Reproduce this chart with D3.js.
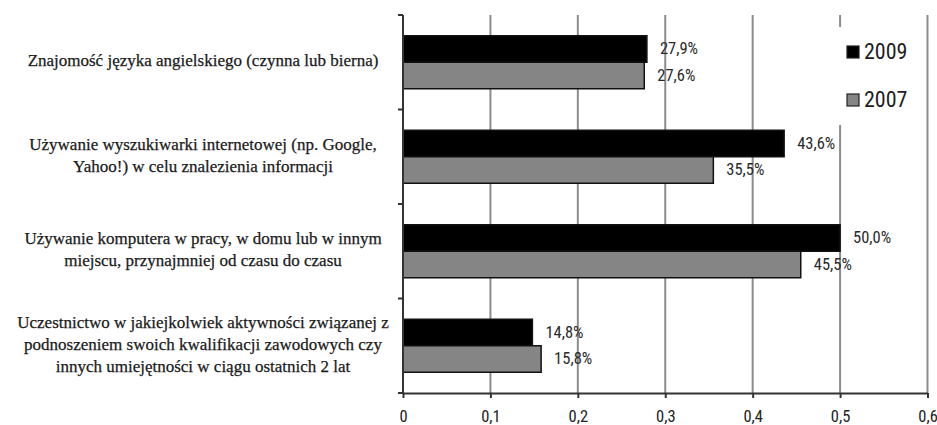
<!DOCTYPE html>
<html>
<head>
<meta charset="utf-8">
<script src="https://cdn.jsdelivr.net/npm/d3@7"></script>
<style>
  html, body { margin: 0; padding: 0; background: #fff; }
  svg { display: block; }
</style>
</head>
<body>
<svg id="chart" width="937" height="425"></svg>
<script>
// Skill categories (each entry is a list of wrapped lines)
const categories = [
  ["Znajomość języka angielskiego (czynna lub bierna)"],
  ["Używanie wyszukiwarki internetowej (np. Google,", "Yahoo!) w celu znalezienia informacji"],
  ["Używanie komputera w pracy, w domu lub w innym", "miejscu, przynajmniej od czasu do czasu"],
  ["Uczestnictwo w jakiejkolwiek aktywności związanej z", "podnoszeniem swoich kwalifikacji zawodowych czy", "innych umiejętności w ciągu ostatnich 2 lat"]
];
const series = ["2009", "2007"];
const values2009 = [0.279, 0.436, 0.500, 0.148];
const values2007 = [0.276, 0.355, 0.455, 0.158];
const xTicks = [0, 0.1, 0.2, 0.3, 0.4, 0.5, 0.6];
const xTickLabels = ["0", "0,1", "0,2", "0,3", "0,4", "0,5", "0,6"];

const colors = { "2009": "#000000", "2007": "#858585" };

const svg = d3.select("#chart");
const plot = { left: 403, right: 927.5, top: 15, bottom: 393 };
const narrow = "'Liberation Sans Narrow', 'Roboto Condensed', 'Liberation Sans', sans-serif";

const x = d3.scaleLinear().domain([0, 0.6]).range([plot.left, plot.right]);
const y = d3.scaleBand().domain(d3.range(categories.length)).range([plot.top, plot.bottom]).paddingInner(0).paddingOuter(0);
const barH = 26.5;
const ySub = d3.scaleBand().domain(series).range([0, barH * 2]);

const fmt = v => (v * 100).toFixed(1).replace(".", ",") + "%";

// vertical gridlines
svg.append("g")
  .selectAll("line")
  .data(xTicks.slice(1))
  .join("line")
  .attr("x1", d => x(d)).attr("x2", d => x(d))
  .attr("y1", plot.top).attr("y2", plot.bottom)
  .attr("stroke", "#8c8c8c")
  .attr("stroke-width", 2);

// bars
const rows = categories.map((c, i) => ({ i, vals: { "2009": values2009[i], "2007": values2007[i] } }));
const groups = svg.append("g").selectAll("g")
  .data(rows)
  .join("g")
  .attr("transform", d => `translate(0,${y(d.i) + (y.bandwidth() - barH * 2) / 2})`);

groups.selectAll("rect")
  .data(d => series.map(s => ({ s, v: d.vals[s] })))
  .join("rect")
  .attr("x", x(0))
  .attr("y", d => ySub(d.s))
  .attr("width", d => x(d.v) - x(0))
  .attr("height", ySub.bandwidth())
  .attr("fill", d => colors[d.s])
  .attr("stroke", "#111")
  .attr("stroke-width", 1.5);

groups.selectAll("text")
  .data(d => series.map(s => ({ s, v: d.vals[s] })))
  .join("text")
  .attr("x", d => x(d.v) + 13)
  .attr("y", d => ySub(d.s) + ySub.bandwidth() / 2 + 1)
  .attr("dominant-baseline", "middle")
  .attr("font-family", narrow)
  .attr("font-size", 16.5)
  .attr("fill", "#2a2a2a")
  .text(d => fmt(d.v));

// left axis with ticks at band boundaries
const axisG = svg.append("g").attr("stroke", "#333").attr("stroke-width", 2);
axisG.append("line").attr("x1", plot.left).attr("x2", plot.left).attr("y1", plot.top).attr("y2", plot.bottom);
axisG.selectAll(".yt")
  .data(d3.range(categories.length + 1))
  .join("line")
  .attr("class", "yt")
  .attr("x1", plot.left - 5).attr("x2", plot.left)
  .attr("y1", d => plot.top + d * y.step()).attr("y2", d => plot.top + d * y.step());

// bottom axis
const xAxis = d3.axisBottom(x).tickValues(xTicks).tickSize(5).tickFormat((d, i) => xTickLabels[i]).tickSizeOuter(0);
const xg = svg.append("g").attr("transform", `translate(0,${plot.bottom})`).call(xAxis);
xg.select(".domain").attr("stroke", "#333").attr("stroke-width", 2);
xg.selectAll(".tick line").attr("stroke", "#333").attr("stroke-width", 2);
xg.selectAll(".tick text")
  .attr("y", 17)
  .attr("font-family", narrow)
  .attr("font-size", 16.5)
  .attr("fill", "#222");

// category labels
const labelX = 203;
const lineH = 22;
svg.append("g").selectAll("text")
  .data(categories)
  .join("text")
  .attr("text-anchor", "middle")
  .attr("font-family", "'Liberation Serif', 'Times New Roman', serif")
  .attr("font-size", 17)
  .attr("fill", "#1a1a1a")
  .attr("stroke", "#1a1a1a")
  .attr("stroke-width", 0.25)
  .each(function (lines, i) {
    const cy = y(i) + y.bandwidth() / 2;
    const start = cy - (lines.length - 1) * lineH / 2;
    d3.select(this).selectAll("tspan")
      .data(lines)
      .join("tspan")
      .attr("x", labelX)
      .attr("y", (d, j) => start + j * lineH)
      .attr("dominant-baseline", "middle")
      .text(d => d);
  });

// legend
const legend = svg.append("g");
legend.append("rect").attr("x", 832).attr("y", 27).attr("width", 86).attr("height", 98).attr("fill", "#fff");
const legItems = legend.selectAll("g")
  .data(series)
  .join("g")
  .attr("transform", (d, i) => `translate(847,${52 + i * 48})`);
legItems.append("rect")
  .attr("x", 0).attr("y", -6).attr("width", 12).attr("height", 12)
  .attr("fill", d => colors[d])
  .attr("stroke", "#222").attr("stroke-width", 1.2);
legItems.append("text")
  .attr("x", 17).attr("y", 1)
  .attr("dominant-baseline", "middle")
  .attr("font-family", narrow)
  .attr("font-size", 22)
  .attr("fill", "#1e1e1e")
  .text(d => d);
</script>
</body>
</html>
